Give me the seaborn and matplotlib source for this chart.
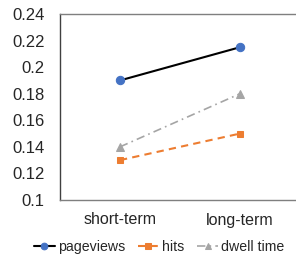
import matplotlib
matplotlib.use("Agg")
import matplotlib.pyplot as plt
import seaborn as sns
import pandas as pd

categories = ["short-term", "long-term"]
pageviews = [0.19, 0.215]
hits = [0.13, 0.15]
dwell_time = [0.14, 0.18]
yticks = [0.1, 0.12, 0.14, 0.16, 0.18, 0.2, 0.22, 0.24]
ytick_labels = ["0.1", "0.12", "0.14", "0.16", "0.18", "0.2", "0.22", "0.24"]

sns.set_style("white")
plt.rcParams['font.family'] = ['Liberation Sans', 'DejaVu Sans']

fig = plt.figure(figsize=(2.96, 2.56), dpi=100)
ax = fig.add_axes([60/296, 56/256, 240/296, 186/256])

df = pd.DataFrame({"cat": categories * 3,
                   "val": pageviews + hits + dwell_time,
                   "series": ["pageviews"] * 2 + ["hits"] * 2 + ["dwell time"] * 2})

sns.lineplot(data=df[df.series == "pageviews"], x="cat", y="val", ax=ax,
             color="black", lw=1.5, marker="o", markersize=6,
             markerfacecolor="#4472C4", markeredgecolor="#4472C4",
             label="pageviews", sort=False)
sns.lineplot(data=df[df.series == "hits"], x="cat", y="val", ax=ax,
             color="#ED7D31", lw=1.5, marker="s", markersize=5,
             markerfacecolor="#ED7D31", markeredgecolor="#ED7D31",
             dashes=(3.5, 2.5), label="hits", sort=False)
sns.lineplot(data=df[df.series == "dwell time"], x="cat", y="val", ax=ax,
             color="#A5A5A5", lw=1.2, marker="^", markersize=6,
             markerfacecolor="#A5A5A5", markeredgecolor="#A5A5A5",
             dashes=(5, 2.5, 1, 2.5), label="dwell time", sort=False)

ax.set_xlim(-0.5, 1.5)
ax.set_ylim(0.1, 0.24)
ax.set_yticks(yticks)
ax.set_yticklabels(ytick_labels, fontsize=12)
ax.tick_params(axis='x', labelsize=11.5, length=0, pad=9)
ax.tick_params(axis='y', length=0, pad=11)
ax.set_xlabel("")
ax.set_ylabel("")
for s in ["top", "bottom"]:
    ax.spines[s].set_color("#7f7f7f")
    ax.spines[s].set_linewidth(1.0)
ax.spines["left"].set_color("#404040")
ax.spines["left"].set_linewidth(1.0)
ax.spines["right"].set_visible(False)

ax.legend(loc="center", bbox_to_anchor=(159/296, 9/256), bbox_transform=fig.transFigure,
          ncol=3, frameon=False, fontsize=10.2, handlelength=1.5, markerscale=0.8,
          handletextpad=0.2, columnspacing=0.9, borderaxespad=0, borderpad=0)

fig.savefig("out.png", dpi=100)
